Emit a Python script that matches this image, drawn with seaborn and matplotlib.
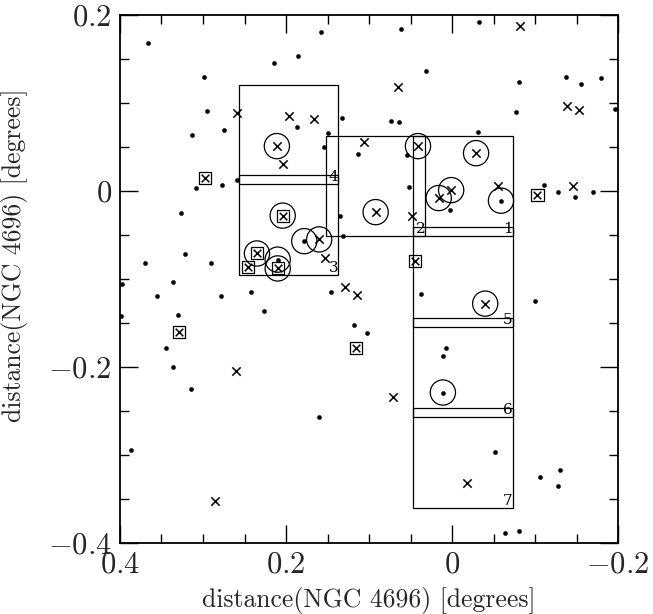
import matplotlib
matplotlib.use("Agg")
import matplotlib.pyplot as plt
from matplotlib.patches import Rectangle
from matplotlib.ticker import FixedLocator, FixedFormatter, MultipleLocator
import pandas as pd
import seaborn as sns

# Galaxies around NGC 4696 (offsets in degrees)
dots = [
    (0.366, 0.168), (0.158, 0.181), (0.186, 0.153), (0.214, 0.145), (0.299, 0.130),
    (0.295, 0.091), (0.187, 0.073), (0.275, 0.069), (0.313, 0.064), (0.133, 0.083),
    (0.149, 0.066), (0.154, 0.050), (0.113, 0.042), (0.259, 0.012), (0.277, 0.007),
    (0.309, 0.003), (0.327, -0.025), (0.135, -0.028), (0.131, -0.051), (0.322, -0.072),
    (0.290, -0.082), (0.370, -0.082), (0.062, 0.184), (-0.032, 0.192), (0.031, 0.136),
    (-0.081, 0.124), (-0.137, 0.130), (-0.156, 0.122), (-0.180, 0.128), (-0.196, 0.093),
    (-0.077, 0.090), (0.073, 0.080), (0.064, 0.078), (-0.031, 0.067), (0.054, 0.041),
    (0.052, 0.004), (0.002, -0.022), (-0.111, 0.007), (-0.128, -0.001), (-0.148, -0.007),
    (-0.170, -0.001), (0.397, -0.106), (0.336, -0.103), (0.356, -0.119), (0.278, -0.119),
    (0.242, -0.115), (0.330, -0.141), (0.226, -0.136), (0.399, -0.142), (0.146, -0.115),
    (0.118, -0.152), (0.103, -0.161), (0.345, -0.178), (0.336, -0.200), (0.314, -0.225),
    (0.160, -0.257), (0.387, -0.294), (0.037, -0.117), (-0.100, -0.125), (0.007, -0.178),
    (0.011, -0.188), (-0.052, -0.297), (-0.130, -0.317), (-0.106, -0.325), (-0.128, -0.335),
    (-0.064, -0.389), (-0.081, -0.386), (0.178, -0.057), (0.210, -0.078), (-0.059, -0.011),
    (0.011, -0.229),
]

crosses = [
    (0.259, 0.089), (0.196, 0.085), (0.166, 0.082), (0.204, 0.031), (0.106, 0.056),
    (0.153, -0.076), (-0.082, 0.188), (0.065, 0.118), (-0.139, 0.097), (-0.153, 0.092),
    (-0.056, 0.006), (0.048, -0.028), (-0.146, 0.006), (0.129, -0.109), (0.114, -0.118),
    (0.260, -0.204), (0.286, -0.352), (0.071, -0.234), (-0.018, -0.332),
    (0.211, 0.051), (0.092, -0.024), (0.160, -0.055), (0.041, 0.051), (-0.029, 0.043),
    (0.001, 0.001), (0.016, -0.008), (-0.040, -0.128),
]

boxed = [
    (0.298, 0.015), (0.204, -0.028), (0.235, -0.071), (0.246, -0.086), (0.210, -0.088),
    (-0.103, -0.004), (0.044, -0.080), (0.329, -0.160), (0.116, -0.178),
]

circled = [
    (0.211, 0.051), (0.092, -0.024), (0.160, -0.055), (0.041, 0.051), (-0.029, 0.043),
    (0.001, 0.001), (0.016, -0.008), (-0.040, -0.128),
    (0.178, -0.057), (0.210, -0.078), (-0.059, -0.011), (0.011, -0.229),
    (0.204, -0.028), (0.235, -0.071), (0.210, -0.088),
]

# Observed fields: label, lower-left corner (min x, min y), size
field_ids = ["1", "2", "3", "4", "5", "6", "7"]
field_x0 = [-0.073, 0.032, 0.137, 0.137, -0.073, -0.073, -0.073]
field_y0 = [-0.051, -0.051, -0.095, 0.008, -0.154, -0.257, -0.360]
field_w = 0.120
field_h = 0.113

xtick_vals = [0.4, 0.2, 0.0, -0.2]
xtick_labels = [r"$0.4$", r"$0.2$", r"$0$", r"$-0.2$"]
ytick_vals = [0.2, 0.0, -0.2, -0.4]
ytick_labels = [r"$0.2$", r"$0$", r"$-0.2$", r"$-0.4$"]

sns.set_theme(style="ticks")
plt.rcParams["font.family"] = ["cmr10", "DejaVu Serif"]
plt.rcParams["mathtext.fontset"] = "cm"
plt.rcParams["axes.formatter.use_mathtext"] = True


def frame(points):
    return pd.DataFrame(points, columns=["x", "y"])


fig = plt.figure(figsize=(6.53, 6.14), dpi=100)
ax = fig.add_axes([120 / 653, 1 - 543 / 614, 498 / 653, 528 / 614])

sns.scatterplot(data=frame(dots), x="x", y="y", ax=ax, marker="o", s=9,
                color="black", edgecolor="black", linewidth=0.3, zorder=3)
sns.scatterplot(data=frame(crosses), x="x", y="y", ax=ax, marker="x", s=36,
                color="black", linewidth=1.1, zorder=3)
sns.scatterplot(data=frame(boxed), x="x", y="y", ax=ax, marker="x", s=30,
                color="black", linewidth=1.1, zorder=3)
sns.scatterplot(data=frame(boxed), x="x", y="y", ax=ax, marker="s", s=75,
                facecolor="none", edgecolor="black", linewidth=0.9, zorder=3)
sns.scatterplot(data=frame(circled), x="x", y="y", ax=ax, marker="o", s=330,
                facecolor="none", edgecolor="black", linewidth=0.9, zorder=3)

for fid, x0, y0 in zip(field_ids, field_x0, field_y0):
    ax.add_patch(Rectangle((x0, y0), field_w, field_h, fill=False,
                           edgecolor="black", linewidth=0.9, zorder=2))
    ax.text(x0, y0, fid, ha="right", va="bottom", fontsize=11,
            family="DejaVu Serif", color="black", zorder=4)

ax.set_xlim(0.4, -0.2)
ax.set_ylim(-0.4, 0.2)

ax.xaxis.set_major_locator(FixedLocator(xtick_vals))
ax.xaxis.set_major_formatter(FixedFormatter(xtick_labels))
ax.yaxis.set_major_locator(FixedLocator(ytick_vals))
ax.yaxis.set_major_formatter(FixedFormatter(ytick_labels))
ax.xaxis.set_minor_locator(MultipleLocator(0.05))
ax.yaxis.set_minor_locator(MultipleLocator(0.05))

ax.tick_params(which="both", direction="in", top=True, right=True,
               color="black", width=1.0)
ax.tick_params(which="major", length=13, labelsize=22, pad=6)
ax.tick_params(which="minor", length=6.5)
for side in ax.spines.values():
    side.set_linewidth(1.3)
    side.set_color("black")

ax.set_xlabel("distance(NGC 4696) [degrees]", fontsize=18.5)
ax.set_ylabel("distance(NGC 4696) [degrees]", fontsize=18.5)
ax.xaxis.set_label_coords(0.5, -0.083)
ax.yaxis.set_label_coords(-0.185, 0.545)

fig.savefig("out.png", dpi=100, facecolor="white")
